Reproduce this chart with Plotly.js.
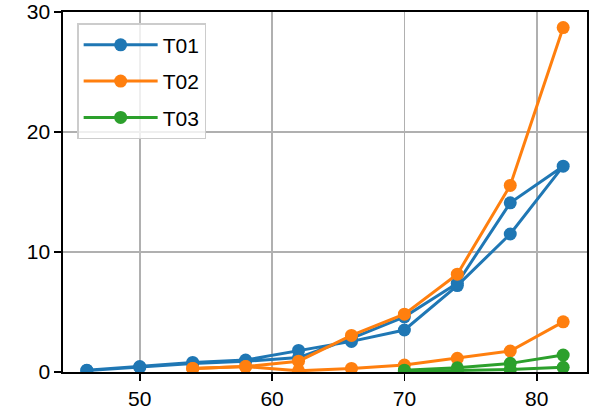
<!DOCTYPE html>
<html>
<head>
<meta charset="utf-8">
<script src="https://cdn.plot.ly/plotly-3.0.1.min.js"></script>
<style>html,body{margin:0;padding:0;background:#fff;}#chart{width:589px;height:416px;}</style>
</head>
<body>
<div id="chart"></div>
<script>
// Series names
const seriesNames = ["T01", "T02", "T03"];
// T01: forward run then return run (continuous path)
const t01X = [46, 50, 54, 58, 62, 66, 70, 74, 78, 82, 78, 74, 70, 66, 62, 58, 54, 50, 46];
const t01Y = [0.15, 0.45, 0.8, 1.0, 1.8, 2.55, 3.5, 7.2, 11.5, 17.15, 14.1, 7.4, 4.6, 2.8, 1.2, 0.9, 0.7, 0.4, 0.12];
// T02: upper run and lower run (null breaks the line)
const t02X = [54, 58, 62, 66, 70, 74, 78, 82, null, 54, 58, 62, 66, 70, 74, 78, 82];
const t02Y = [0.3, 0.45, 0.9, 3.05, 4.82, 8.15, 15.55, 28.7, null, 0.3, 0.45, 0.1, 0.3, 0.58, 1.14, 1.75, 4.18];
// T03: upper run and lower run
const t03X = [70, 74, 78, 82, null, 70, 74, 78, 82];
const t03Y = [0.15, 0.35, 0.72, 1.41, null, 0.05, 0.1, 0.2, 0.39];
// Tick labels
const xTicks = [50, 60, 70, 80];
const yTicks = [0, 10, 20, 30];

const colors = ["#1f77b4", "#ff7f0e", "#2ca02c"];
const xs = [t01X, t02X, t03X];
const ys = [t01Y, t02Y, t03Y];

const traces = seriesNames.map((n, i) => ({
  type: "scatter",
  mode: "lines+markers",
  name: n,
  legendgroup: n,
  x: xs[i],
  y: ys[i],
  line: {color: colors[i], width: 3},
  marker: {color: colors[i], size: 13},
  connectgaps: false,
  cliponaxis: true
}));

const FONT = '"Liberation Sans", Arial, sans-serif';
const axisCommon = {
  showgrid: true, gridcolor: "#b0b0b0", gridwidth: 1.6,
  zeroline: false,
  showline: true, linecolor: "#000", linewidth: 1.6, mirror: true,
  ticks: "outside", ticklen: 7, tickwidth: 1.6, tickcolor: "#000",
  ticklabeloverflow: "allow",
  tickfont: {family: FONT, size: 21, color: "#000"}
};
const layout = {
  width: 589,
  height: 416,
  margin: {l: 63, r: 2, t: 12, b: 44, pad: 0},
  paper_bgcolor: "#ffffff",
  plot_bgcolor: "#ffffff",
  font: {family: FONT, size: 21, color: "#000"},
  showlegend: true,
  legend: {
    x: 0.027, y: 0.969, xanchor: "left", yanchor: "top",
    bgcolor: "rgba(255,255,255,0.8)",
    bordercolor: "#cccccc", borderwidth: 1.5,
    font: {family: FONT, size: 21, color: "#000"},
    tracegroupgap: 6,
    itemwidth: 74
  },
  xaxis: Object.assign({}, axisCommon, {
    range: [44.2, 83.8],
    tickvals: xTicks,
    ticktext: xTicks.map(String)
  }),
  yaxis: Object.assign({}, axisCommon, {
    range: [0, 30],
    tickvals: yTicks,
    ticktext: yTicks.map(String)
  })
};

Plotly.newPlot("chart", traces, layout, {displayModeBar: false, staticPlot: true});
</script>
</body>
</html>
